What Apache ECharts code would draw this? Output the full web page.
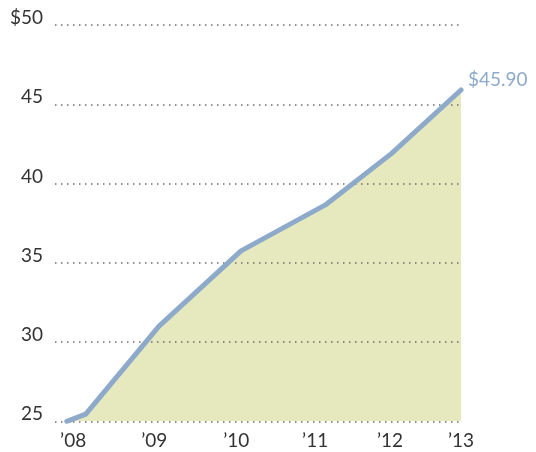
<!DOCTYPE html>
<html>
<head>
<meta charset="utf-8">
<script src="https://cdn.jsdelivr.net/npm/echarts@6/dist/echarts.min.js"></script>
<style>html,body{margin:0;padding:0;background:#fff}#c{width:536px;height:452px}</style>
</head>
<body>
<div id="c"></div>
<script>
// Data (fractional years)
var years = [2008.0, 2008.24, 2009.17, 2010.21, 2011.28, 2012.12, 2013.0];
var prices = [25.0, 25.45, 31.0, 35.75, 38.65, 41.9, 45.9];
var tickPositions = [2008.08, 2009.11, 2010.15, 2011.15, 2012.10, 2013.0];
var tickLabels = ['\u201908', '\u201909', '\u201910', '\u201911', '\u201912', '\u201913'];
var yTicks = [25, 30, 35, 40, 45, 50];

var pts = years.map(function (x, i) { return [x, prices[i]]; });
var chart = echarts.init(document.getElementById('c'), null, {renderer: 'canvas'});
var font = 'Lato, "Noto Sans", sans-serif';

chart.setOption({
  animation: false,
  grid: {left: 55, right: 75, top: 25, bottom: 30.7, containLabel: false},
  xAxis: {
    type: 'value', min: 2007.85, max: 2013.0,
    axisLine: {show: false}, axisTick: {show: false}, splitLine: {show: false},
    axisLabel: {
      customValues: tickPositions,
      margin: 10,
      fontFamily: font, fontSize: 19, color: '#333',
      formatter: function (v) {
        var best = 0, d = Infinity;
        tickPositions.forEach(function (p, i) { if (Math.abs(p - v) < d) { d = Math.abs(p - v); best = i; } });
        return tickLabels[best];
      }
    }
  },
  yAxis: {
    type: 'value', min: yTicks[0], max: yTicks[yTicks.length - 1], interval: 5,
    z: 2,
    axisLine: {show: false}, axisTick: {show: false},
    splitLine: {show: true, lineStyle: {color: '#6e6e6e', width: 1.5, type: [1.5, 4.5]}},
    axisLabel: {
      margin: 12, fontFamily: font, fontSize: 19, color: '#333',
      verticalAlign: 'bottom', lineHeight: 14,
      formatter: function (v) { return v === 50 ? '$' + v : String(v); }
    }
  },
  series: [
    {
      type: 'line', data: pts, z: 1, symbol: 'none', silent: true,
      lineStyle: {width: 0},
      areaStyle: {color: '#e6e8bd', opacity: 1}
    },
    {
      type: 'line', data: pts, z: 3, symbol: 'none',
      lineStyle: {width: 5, color: '#8eaaca', cap: 'round', join: 'round'},
      endLabel: {
        show: true, distance: 7, offset: [0, -10],
        fontFamily: font, fontSize: 19, color: '#8eaaca',
        formatter: function (p) { return '$' + p.value[1].toFixed(2); }
      }
    }
  ]
});
</script>
</body>
</html>
